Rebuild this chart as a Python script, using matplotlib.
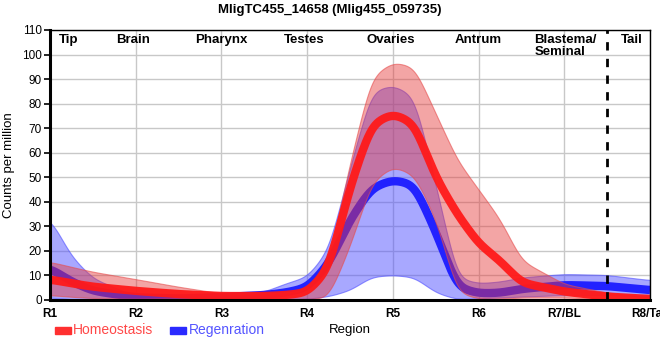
import numpy as np
import matplotlib
matplotlib.use("Agg")
import matplotlib.pyplot as plt
from matplotlib.patches import Rectangle

plt.rcParams['font.family'] = ['Liberation Sans', 'DejaVu Sans']

regions = ["R1", "R2", "R3", "R4", "R5", "R6", "R7/BL", "R8/Tail"]
tissues = ["Tip", "Brain", "Pharynx", "Testes", "Ovaries", "Antrum", "Blastema/\nSeminal", "Tail"]

# sample positions along the region axis (1 = R1 ... 8 = R8)
pos = [1, 1.25, 1.5, 2, 2.5, 3, 3.5, 3.75, 4, 4.25, 4.5, 4.75, 5, 5.25, 5.5, 5.75,
       6, 6.25, 6.5, 7, 7.5, 8]

homeo_mean = [8.4, 6.8, 5.4, 3.7, 2.4, 1.6, 1.6, 2.0, 3.0, 12.5, 46, 71.5, 76, 72, 50, 35,
              23, 16, 7, 3.4, 1.4, 0.4]
homeo_upper = [15.6, 13.5, 11.5, 8.5, 5.4, 2.7, 2.7, 3.0, 4.0, 16, 56, 91, 97, 95, 76, 57,
               45, 33, 16, 6.5, 3, 1]
homeo_lower = [2, 1.3, 0.8, 0.5, 0.6, 0.7, 0.6, 0.4, 0.3, 1, 22, 48, 54.5, 51, 33, 3,
               0.5, 0.5, 1, 1, 0.5, 0]

regen_mean = [13, 7.5, 3.7, 1.1, 0.6, 1.2, 2, 3, 5, 14.5, 32.6, 45.6, 49, 47, 28, 5.2,
              2.7, 2.9, 4.5, 6.1, 5.7, 4]
regen_upper = [33.5, 17.7, 8.8, 1.5, 1.2, 2, 3.4, 6.8, 9.5, 20.5, 54, 85, 87.6, 83, 47, 9,
               6.8, 7.5, 9.2, 10.6, 10.2, 8.1]
regen_lower = [1, 0.3, 0, 0, 0, 0, 0.3, 0.5, 0.5, 1.5, 4, 9.5, 10.2, 9.3, 3, 0.3,
               0.7, 1, 1.4, 2, 2, 1.4]

xs = np.linspace(1, len(regions), 1401)


def smooth(x, y, sigma=0.075):
    """Linear curve through the samples, softened with a small Gaussian kernel."""
    lin = np.interp(xs, x, y)
    step = xs[1] - xs[0]
    half = int(4 * sigma / step)
    k = np.exp(-0.5 * (np.arange(-half, half + 1) * step / sigma) ** 2)
    k /= k.sum()
    padded = np.concatenate([np.full(half, lin[0]), lin, np.full(half, lin[-1])])
    return np.convolve(padded, k, mode='valid')


fig = plt.figure(figsize=(6.6, 3.6), dpi=100)
ax = fig.add_axes([50/660, 60/360, 600/660, 270/360])

xpos = np.arange(1, len(regions) + 1)

blue_band = (0.32, 0.32, 1.0, 0.5)
red_band = (0.90, 0.22, 0.22, 0.45)

ax.fill_between(xs, smooth(pos, regen_lower), smooth(pos, regen_upper),
                color=blue_band, lw=0.8, edgecolor=(0.3, 0.3, 1.0, 0.6), zorder=2)
ax.plot(xs, smooth(pos, regen_mean), color='#2222ff', lw=6, zorder=3, solid_capstyle='butt')
ax.fill_between(xs, smooth(pos, homeo_lower), smooth(pos, homeo_upper),
                color=red_band, lw=0.8, edgecolor=(0.9, 0.3, 0.3, 0.6), zorder=4)
ax.plot(xs, smooth(pos, homeo_mean), color='#ff1a1a', lw=6, alpha=0.95, zorder=5,
        solid_capstyle='butt')

ax.axvline(7.5, color='black', lw=2, ls=(0, (3, 3)), zorder=6)

ax.set_xlim(1, 8)
ax.set_ylim(0, 110)
ax.set_xticks(xpos)
ax.set_xticklabels(regions, fontsize=8.5, fontweight='bold')
ax.set_yticks(np.arange(0, 111, 10))
ax.tick_params(axis='y', labelsize=8.5, length=4, width=1.2, pad=2)
ax.tick_params(axis='x', length=0, pad=6)
ax.grid(True, color='#c8c8c8', lw=1, zorder=0)
ax.set_axisbelow(True)
for s in ['top', 'right']:
    ax.spines[s].set_linewidth(1)
for s in ['left', 'bottom']:
    ax.spines[s].set_linewidth(2.2)
for s in ax.spines.values():
    s.set_zorder(7)

ax.set_ylabel("Counts per million", fontsize=9.5)
ax.yaxis.set_label_coords(-35/600, 0.5)
fig.text(350/660, 1 - 330/360, "Region", ha='center', va='center', fontsize=9.5)

tissue_x = [1.22, 1.97, 3.0, 3.96, 4.97, 6.0, 6.65, 7.79]
for t, tx in zip(tissues, tissue_x):
    ha = 'left' if '\n' in t else 'center'
    ax.text(tx, 108.5, t, ha=ha, va='top', fontsize=9.5, fontweight='bold',
            linespacing=1.0, zorder=8)

fig.text(330/660, 1 - 10/360, "MligTC455_14658 (Mlig455_059735)", ha='center', va='center',
         fontsize=9.5, fontweight='bold')

# legend
fig.patches.append(Rectangle((55/660, 1 - 334/360), 16/660, 7/360, transform=fig.transFigure,
                             color='#ff3030', figure=fig))
fig.text(73/660, 1 - 330/360, "Homeostasis", color='#ff4848', fontsize=10, va='center')
fig.patches.append(Rectangle((170/660, 1 - 334/360), 16/660, 7/360, transform=fig.transFigure,
                             color='#2a2aff', figure=fig))
fig.text(189/660, 1 - 330/360, "Regenration", color='#5555ff', fontsize=10, va='center')

fig.savefig("out.png", dpi=100)
